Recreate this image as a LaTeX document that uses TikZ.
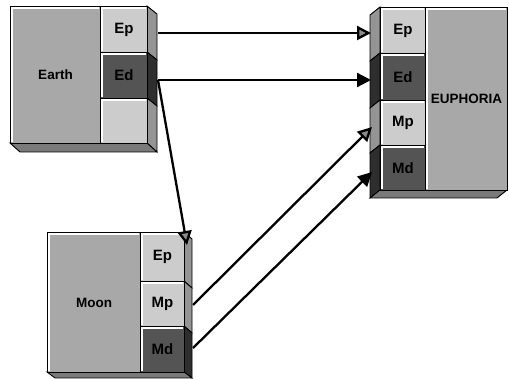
\documentclass[tikz,border=0pt]{standalone}
\usepackage{fontspec}
\setmainfont{Liberation Sans}
\usetikzlibrary{arrows.meta}
\definecolor{bodygray}{gray}{0.66}
\definecolor{litegray}{gray}{0.80}
\definecolor{darkport}{gray}{0.33}
\definecolor{sidelite}{gray}{0.58}
\definecolor{sidedark}{gray}{0.18}
\definecolor{shadegray}{gray}{0.48}
\definecolor{tipgray}{gray}{0.55}
\begin{document}
\begin{tikzpicture}[x=1pt,y=-1pt,
	bevel/.style={path picture={\draw[white,line width=1.4pt]([xshift=1.5pt,yshift=1.5pt]path picture bounding box.south west)|-([xshift=-1.5pt,yshift=-1.5pt]path picture bounding box.north east);}},
	box/.style={draw=black,line width=1pt,fill=bodygray,inner sep=0pt,anchor=north west,bevel,font=\bfseries\fontsize{13.5}{14}\selectfont},
	port/.style={box,font=\bfseries\fontsize{15}{15}\selectfont},
	lport/.style={port,fill=litegray},
	dport/.style={port,fill=darkport},
	side/.style={draw=black,line width=0.9pt,fill=sidelite},
	dside/.style={side,fill=sidedark},
	shade/.style={draw=black,line width=0.9pt,fill=shadegray},
	wire/.style={line width=2.3pt},
	ptip/.style={wire,-{Triangle[length=14pt,width=14pt,fill=tipgray]}},
	dtip/.style={wire,-{Triangle[length=14pt,width=14pt]}}]
			\useasboundingbox(0,0)rectangle(509,379);
			% Earth
			\filldraw[side](147,6)--(157,14)--(157,60)--(147,52)--cycle;
			\filldraw[dside](147,52)--(157,60)--(157,106)--(147,98)--cycle;
			\filldraw[side](147,98)--(157,106)--(157,152)--(147,143)--cycle;
			\filldraw[shade](10,143)--(147,143)--(157,152)--(20,152)--cycle;
			\node[box,minimum width=90pt,minimum height=137pt](earth)at(10,6){Earth};
			\node[lport,minimum width=47pt,minimum height=46pt](earthEp)at(100,6){Ep};
			\node[dport,minimum width=47pt,minimum height=46pt](earthEd)at(100,52){Ed};
			\node[lport,minimum width=47pt,minimum height=45pt](earthNo)at(100,98){};
			\coordinate(earthEpOut)at(158,33);
			\coordinate(earthEdOut)at(158,80);
			% Moon
			\filldraw[side](184,232)--(192,239)--(192,288)--(184,281)--cycle;
			\filldraw[side](184,281)--(192,288)--(192,333)--(184,326)--cycle;
			\filldraw[dside](184,326)--(192,333)--(192,378)--(184,372)--cycle;
			\filldraw[shade](47,372)--(184,372)--(192,378)--(55,378)--cycle;
			\node[box,minimum width=93pt,minimum height=140pt](moon)at(47,232){Moon};
			\node[lport,minimum width=44pt,minimum height=49pt](moonEp)at(140,232){Ep};
			\node[lport,minimum width=44pt,minimum height=45pt](moonMp)at(140,281){Mp};
			\node[dport,minimum width=44pt,minimum height=46pt](moonMd)at(140,326){Md};
			\coordinate(moonEpIn)at(187,245);
			\coordinate(moonMpOut)at(193,305);
			\coordinate(moonMdOut)at(193,348);
			% Euphoria
			\filldraw[side](380,7)--(370,15)--(370,61)--(380,53)--cycle;
			\filldraw[dside](380,53)--(370,61)--(370,108)--(380,100)--cycle;
			\filldraw[side](380,100)--(370,108)--(370,153)--(380,145)--cycle;
			\filldraw[dside](380,145)--(370,153)--(370,198)--(380,190)--cycle;
			\filldraw[shade](380,190)--(507,190)--(497,198)--(370,198)--cycle;
			\node[box,minimum width=82pt,minimum height=183pt](euph)at(425,7){EUPHORIA};
			\node[lport,minimum width=45pt,minimum height=46pt](euphEp)at(380,7){Ep};
			\node[dport,minimum width=45pt,minimum height=47pt](euphEd)at(380,53){Ed};
			\node[lport,minimum width=45pt,minimum height=45pt](euphMp)at(380,100){Mp};
			\node[dport,minimum width=45pt,minimum height=45pt](euphMd)at(380,145){Md};
			\coordinate(euphEpIn)at(371,33);
			\coordinate(euphEdIn)at(371,80);
			\coordinate(euphMpIn)at(372,127);
			\coordinate(euphMdIn)at(372,172);
			% links
			\draw[ptip](earthEpOut)--(euphEpIn);
			\draw[dtip](earthEdOut)--(euphEdIn);
			\draw[ptip](earthEdOut)--(moonEpIn);
			\draw[ptip](moonMpOut)--(euphMpIn);
			\draw[dtip](moonMdOut)--(euphMdIn);
		\end{tikzpicture}
\end{document}
